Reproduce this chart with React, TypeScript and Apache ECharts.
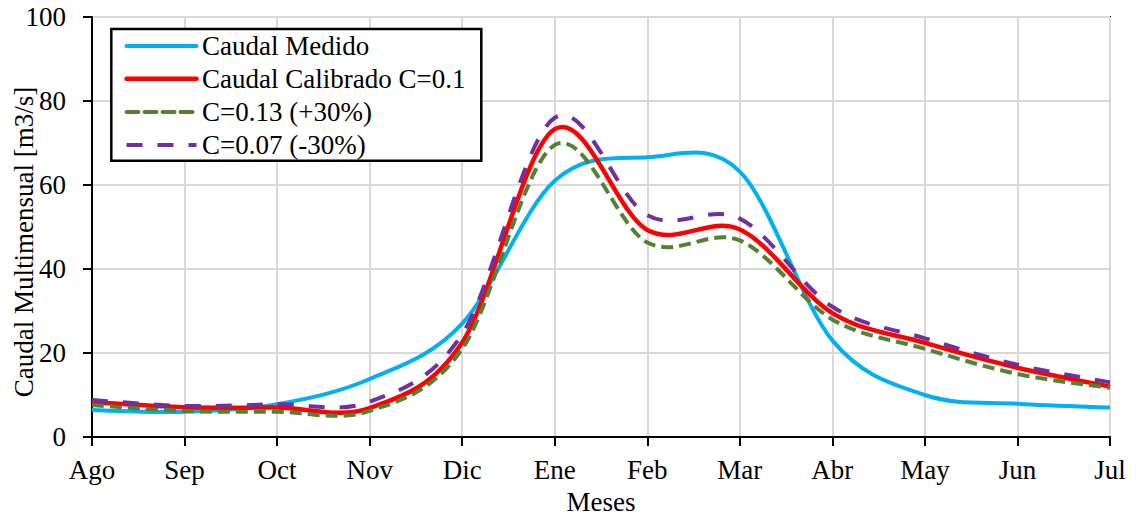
import React, { useEffect, useRef } from "react";
import * as echarts from "echarts";

const months = ["Ago", "Sep", "Oct", "Nov", "Dic", "Ene", "Feb", "Mar", "Abr", "May", "Jun", "Jul"];
const caudalMedido = [6.4, 6.0, 7.8, 13.8, 27, 61, 66.6, 63.2, 23, 10, 7.9, 7];
const caudalCalibrado = [8.3, 7.1, 7.0, 6.9, 22.5, 73.3, 49.3, 49.4, 29.5, 22.4, 16.5, 12];
const cMas30 = [7.6, 6.2, 6.0, 6.2, 21, 69.5, 46.3, 46.8, 28, 21, 15, 11.7];
const cMenos30 = [8.8, 7.4, 7.8, 8.4, 24.5, 76, 52.8, 52.0, 31, 23.5, 17.2, 13];
const yTicks = [0, 20, 40, 60, 80, 100];

const names = ["Caudal Medido", "Caudal Calibrado C=0.1", "C=0.13 (+30%)", "C=0.07 (-30%)"];
const colors = ["#00B0F0", "#FF0000", "#548235", "#7030A0"];
const widths = [4, 4.5, 4, 4];
const dashes: any[] = [null, null, [12, 6], [16, 15]];
const seriesData = [caudalMedido, caudalCalibrado, cMas30, cMenos30];

const FONT = "Liberation Serif";
const FS = 27;
const CSSFONT = `${FS}px "Liberation Serif", "Times New Roman", serif`;

// Excel-like smoothed curve (Catmull-Rom as cubic Bezier) through the points
function smoothPath(pts: number[][]): string {
  const n = pts.length;
  let d = `M${pts[0][0]},${pts[0][1]}`;
  for (let i = 0; i < n - 1; i++) {
    const p0 = pts[Math.max(i - 1, 0)];
    const p1 = pts[i];
    const p2 = pts[i + 1];
    const p3 = pts[Math.min(i + 2, n - 1)];
    const c1x = p1[0] + (p2[0] - p0[0]) / 6;
    const c1y = p1[1] + (p2[1] - p0[1]) / 6;
    const c2x = p2[0] - (p3[0] - p1[0]) / 6;
    const c2y = p2[1] - (p3[1] - p1[1]) / 6;
    d += ` C${c1x},${c1y} ${c2x},${c2y} ${p2[0]},${p2[1]}`;
  }
  return d;
}

export default function App() {
  const ref = useRef<HTMLDivElement>(null);
  useEffect(() => {
    document.body.style.margin = "0";
    if (!ref.current) return;
    const chart = echarts.init(ref.current, null, { renderer: "svg" });

    const curveSeries = seriesData.map((values, k) => ({
      name: names[k],
      type: "custom",
      data: values.map((v, i) => [i, v]),
      encode: { x: 0, y: 1 },
      z: 3 + k,
      renderItem: (params: any, api: any) => {
        if (params.dataIndex !== 0) return null;
        const pts = values.map((v, i) => api.coord([i, v]));
        return {
          type: "path",
          shape: { pathData: smoothPath(pts) },
          style: {
            fill: "none",
            stroke: colors[k],
            lineWidth: widths[k],
            lineDash: dashes[k],
            lineCap: "butt",
            lineJoin: "round",
          },
        };
      },
    }));

    const legendRowsY = [46, 78.7, 112, 145];
    const graphics: any[] = [
      {
        type: "rect",
        z: 100,
        shape: { x: 111.3, y: 29, width: 370, height: 131.7 },
        style: { fill: "#fff", stroke: "#000", lineWidth: 2.5 },
      },
    ];
    names.forEach((nm, k) => {
      graphics.push({
        type: "line",
        z: 101,
        shape: { x1: 126.5, y1: legendRowsY[k], x2: 196.5, y2: legendRowsY[k] },
        style: {
          stroke: colors[k],
          lineWidth: widths[k],
          lineDash: dashes[k],
          lineCap: k === 3 ? "butt" : "round",
        },
      });
      graphics.push({
        type: "text",
        z: 101,
        x: 202,
        y: legendRowsY[k],
        style: {
          text: nm,
          font: CSSFONT,
          fill: "#000",
          align: "left",
          verticalAlign: "middle",
        },
      });
    });
    graphics.push({
      type: "text",
      z: 101,
      x: 24,
      y: 242,
      rotation: Math.PI / 2,
      style: {
        text: "Caudal Multimensual [m3/s]",
        font: CSSFONT,
        fill: "#000",
        align: "center",
        verticalAlign: "middle",
      },
    });

    chart.setOption({
      animation: false,
      textStyle: { fontFamily: FONT },
      grid: {
        left: 92,
        right: 26,
        top: 17,
        bottom: 79,
        show: true,
        borderColor: "#000",
        borderWidth: 2,
        backgroundColor: "transparent",
        outerBoundsMode: "none",
        containLabel: false,
      },
      graphic: graphics,
      xAxis: {
        type: "category",
        data: months,
        boundaryGap: false,
        name: "Meses",
        nameLocation: "middle",
        nameGap: 51,
        nameMoveOverlap: false,
        nameTextStyle: { fontFamily: FONT, fontSize: FS, color: "#000" },
        axisLine: { lineStyle: { color: "#000", width: 2 } },
        axisTick: { show: true, inside: false, length: 9, lineStyle: { color: "#000", width: 2 }, alignWithLabel: true },
        axisLabel: { fontFamily: FONT, fontSize: FS, color: "#000", margin: 19, interval: 0 },
        splitLine: { show: true, lineStyle: { color: "#d9d9d9", width: 2 } },
      },
      yAxis: {
        type: "value",
        min: yTicks[0],
        max: yTicks[yTicks.length - 1],
        interval: 20,
        axisLine: { show: true, lineStyle: { color: "#000", width: 2 } },
        axisTick: { show: true, inside: false, length: 9, lineStyle: { color: "#000", width: 2 } },
        axisLabel: { fontFamily: FONT, fontSize: FS, color: "#000", margin: 26 },
        splitLine: { show: true, lineStyle: { color: "#d9d9d9", width: 2 } },
      },
      series: curveSeries,
    });
    return () => chart.dispose();
  }, []);
  return <div ref={ref} style={{ width: 1136, height: 516 }} />;
}
